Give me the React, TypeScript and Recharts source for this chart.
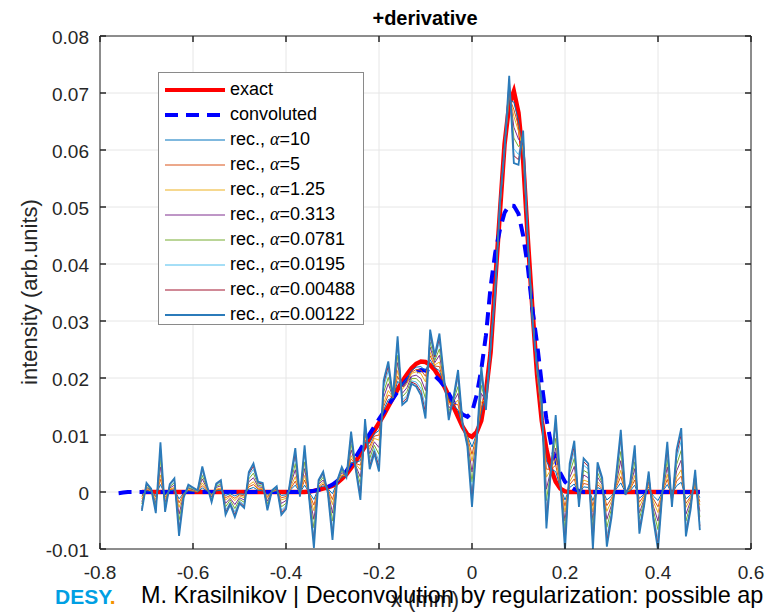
import React from 'react';
import { LineChart, Line, XAxis, YAxis, CartesianGrid, Legend, ReferenceLine } from 'recharts';

const FONT = '"Liberation Sans", Arial, Helvetica, sans-serif';
const AXIS_COLOR = '#262626';
const PLOT = { left: 100, top: 36, right: 751, bottom: 549 };

const xTicks = [-0.8, -0.6, -0.4, -0.2, 0, 0.2, 0.4, 0.6];
const yTicks = [-0.01, 0, 0.01, 0.02, 0.03, 0.04, 0.05, 0.06, 0.07, 0.08];

const xRec = [
  -0.71, -0.7, -0.69, -0.68, -0.67, -0.66, -0.65, -0.64, -0.63, -0.62,
  -0.61, -0.6, -0.59, -0.58, -0.57, -0.56, -0.55, -0.54, -0.53, -0.52,
  -0.51, -0.5, -0.49, -0.48, -0.47, -0.46, -0.45, -0.44, -0.43, -0.42,
  -0.41, -0.4, -0.39, -0.38, -0.37, -0.36, -0.35, -0.34, -0.33, -0.32,
  -0.31, -0.3, -0.29, -0.28, -0.27, -0.26, -0.25, -0.24, -0.23, -0.22,
  -0.21, -0.2, -0.19, -0.18, -0.17, -0.16, -0.15, -0.14, -0.13, -0.12,
  -0.11, -0.1, -0.09, -0.08, -0.07, -0.06, -0.05, -0.04, -0.03, -0.02,
  -0.01, 0, 0.01, 0.02, 0.03, 0.04, 0.05, 0.06, 0.07, 0.08,
  0.09, 0.1, 0.11, 0.12, 0.13, 0.14, 0.15, 0.16, 0.17, 0.18,
  0.19, 0.2, 0.21, 0.22, 0.23, 0.24, 0.25, 0.26, 0.27, 0.28,
  0.29, 0.3, 0.31, 0.32, 0.33, 0.34, 0.35, 0.36, 0.37, 0.38,
  0.39, 0.4, 0.41, 0.42, 0.43, 0.44, 0.45, 0.46, 0.47, 0.48,
  0.49,
];
const xConv = [-0.76, -0.75, -0.74, -0.73, -0.72, ...xRec];

const exact = [
  0, 0, 0, 0, 0, 0, 0, 0, 0, 0,
  0, 0, 0, 0, 0, 0, 0, 0, 0, 0,
  0, 0, 0, 0, 0, 0, 0, 0, 0, 0,
  0, 0, 0, 0, 0, 0, 0.0001, 0.0002, 0.0004, 0.0006,
  0.0008, 0.0011, 0.0016, 0.0023, 0.0031, 0.0042, 0.0054, 0.0067, 0.008, 0.0094,
  0.0108, 0.0121, 0.0135, 0.015, 0.0165, 0.018, 0.0194, 0.0206, 0.0217, 0.0225,
  0.0229, 0.0228, 0.0223, 0.0214, 0.0201, 0.0186, 0.0169, 0.015, 0.0132, 0.0114,
  0.0101, 0.0097, 0.0105, 0.0125, 0.0175, 0.0245, 0.037, 0.049, 0.061, 0.068,
  0.0703, 0.0665, 0.0582, 0.0445, 0.032, 0.0205, 0.0125, 0.0075, 0.004, 0.0018,
  0.0006, 0.0001, 0, 0, 0, 0, 0, 0, 0, 0,
  0, 0, 0, 0, 0, 0, 0, 0, 0, 0,
  0, 0, 0, 0, 0, 0, 0, 0, 0, 0,
  0,
];

const convoluted = [
  -0.0002, -0.0001, 0, 0, 0, 0, 0, 0, 0, 0,
  0, 0, 0, 0, 0, 0, 0, 0, 0, 0,
  0, 0, 0, 0, 0, 0, 0, 0, 0, 0,
  0, 0, 0, 0, 0, 0, 0, 0, 0, 0,
  0, 0.0001, 0.0002, 0.0004, 0.0006, 0.0009, 0.0013, 0.0019, 0.0027, 0.0037,
  0.0049, 0.0062, 0.0075, 0.0089, 0.0102, 0.0115, 0.0128, 0.014, 0.0152, 0.0164,
  0.0176, 0.0187, 0.0197, 0.0205, 0.0211, 0.0214, 0.0213, 0.021, 0.0204, 0.0196,
  0.0186, 0.0173, 0.0158, 0.0145, 0.0136, 0.0132, 0.014, 0.017, 0.0215, 0.0275,
  0.036, 0.042, 0.046, 0.049, 0.0503, 0.0502, 0.0488, 0.045, 0.0395, 0.032,
  0.026, 0.019, 0.0128, 0.0085, 0.0055, 0.0033, 0.0018, 0.001, 0.0005, 0.0002,
  0, 0, 0, 0, 0, 0, 0, 0, 0, 0,
  0, 0, 0, 0, 0, 0, 0, 0, 0, 0,
  0, 0, 0, 0, 0, 0,
];

const recA10 = [
  -0.0005, 0.0002, 0.0001, -0.0006, 0.0013, -0.0005, 0.0002, 0.0004, -0.0012, -0.0002,
  0.0002, 0.0001, 0, 0.0007, 0.0002, -0.0003, 0.0002, 0.0003, -0.0006, -0.0003,
  -0.0007, -0.0003, -0.0004, 0.0005, 0.0008, 0.0003, 0.0002, -0.0005, 0, 0.0002,
  -0.0006, -0.0005, 0.0004, 0.0012, -0.0001, 0.0012, -0.0001, -0.0013, 0.0007, 0.0011,
  0.0006, -0.0003, 0.0017, 0.0026, 0.003, 0.0052, 0.0052, 0.0055, 0.0087, 0.0086,
  0.0102, 0.0108, 0.0144, 0.0162, 0.0165, 0.0194, 0.0188, 0.0199, 0.0213, 0.0219,
  0.022, 0.0213, 0.0232, 0.0218, 0.0213, 0.0188, 0.0163, 0.0152, 0.0144, 0.0115,
  0.0098, 0.0079, 0.0102, 0.0139, 0.017, 0.0247, 0.0367, 0.0493, 0.0608, 0.0688,
  0.0684, 0.0651, 0.059, 0.0444, 0.0317, 0.0207, 0.013, 0.0054, 0.004, 0.0036,
  0.0008, -0.0014, 0.0008, 0.0014, -0.0004, 0.0009, 0.0008, -0.0015, 0.0008, 0.0004,
  -0.0014, -0.0007, 0.0005, 0.0016, -0.0001, 0.0002, 0.0012, -0.0011, -0.0004, 0.0005,
  -0.0007, -0.0015, 0.0001, 0.0013, -0.0004, 0.0011, 0.0017, -0.0012, -0.0005, 0.0006,
  -0.001,
];

const recA5 = [
  -0.0008, 0.0004, 0.0002, -0.0009, 0.0022, -0.0009, 0.0004, 0.0006, -0.0019, -0.0003,
  0.0003, 0.0002, 0.0001, 0.0011, 0.0003, -0.0005, 0.0004, 0.0005, -0.001, -0.0006,
  -0.0011, -0.0005, -0.0007, 0.0009, 0.0013, 0.0005, 0.0004, -0.0008, 0.0001, 0.0003,
  -0.001, -0.0008, 0.0006, 0.0019, -0.0002, 0.0021, -0.0003, -0.0023, 0.0008, 0.0014,
  0.0005, -0.0013, 0.0017, 0.0028, 0.003, 0.0058, 0.005, 0.0047, 0.0092, 0.008,
  0.0098, 0.01, 0.015, 0.017, 0.0166, 0.0203, 0.0184, 0.0194, 0.021, 0.0215,
  0.0214, 0.0203, 0.0239, 0.0221, 0.022, 0.019, 0.0158, 0.0154, 0.0153, 0.0116,
  0.0096, 0.0066, 0.01, 0.0149, 0.0167, 0.0248, 0.0365, 0.0495, 0.0607, 0.0693,
  0.0671, 0.0642, 0.0595, 0.0444, 0.0315, 0.0209, 0.0134, 0.004, 0.004, 0.0047,
  0.001, -0.0025, 0.0013, 0.0023, -0.0007, 0.0015, 0.0013, -0.0025, 0.0013, 0.0006,
  -0.0024, -0.0011, 0.0008, 0.0027, -0.0001, 0.0004, 0.0021, -0.0018, -0.0006, 0.0009,
  -0.0012, -0.0026, 0.0001, 0.0022, -0.0007, 0.0019, 0.0028, -0.002, -0.0008, 0.001,
  -0.0017,
];

const recA125 = [
  -0.0012, 0.0006, 0.0002, -0.0013, 0.003, -0.0012, 0.0005, 0.0008, -0.0027, -0.0004,
  0.0005, 0.0003, 0.0001, 0.0016, 0.0004, -0.0006, 0.0005, 0.0007, -0.0014, -0.0008,
  -0.0015, -0.0007, -0.001, 0.0012, 0.0018, 0.0006, 0.0006, -0.0011, 0.0001, 0.0004,
  -0.0014, -0.0011, 0.0009, 0.0027, -0.0003, 0.0029, -0.0004, -0.0033, 0.001, 0.0017,
  0.0004, -0.0022, 0.0017, 0.003, 0.0029, 0.0064, 0.0049, 0.0039, 0.0097, 0.0075,
  0.0094, 0.0091, 0.0156, 0.0178, 0.0166, 0.0213, 0.018, 0.019, 0.0208, 0.0211,
  0.0208, 0.0193, 0.0245, 0.0223, 0.0228, 0.0191, 0.0154, 0.0155, 0.0161, 0.0116,
  0.0094, 0.0054, 0.0098, 0.0158, 0.0164, 0.0249, 0.0363, 0.0497, 0.0606, 0.0698,
  0.0659, 0.0633, 0.06, 0.0443, 0.0313, 0.021, 0.0137, 0.0026, 0.004, 0.0059,
  0.0011, -0.0035, 0.0018, 0.0032, -0.0009, 0.0021, 0.0018, -0.0035, 0.0018, 0.0009,
  -0.0034, -0.0016, 0.0011, 0.0038, -0.0002, 0.0005, 0.0029, -0.0026, -0.0009, 0.0013,
  -0.0017, -0.0036, 0.0002, 0.0031, -0.0009, 0.0026, 0.0039, -0.0027, -0.0011, 0.0014,
  -0.0023,
];

const recA0313 = [
  -0.0017, 0.0008, 0.0003, -0.0019, 0.0044, -0.0018, 0.0007, 0.0012, -0.0039, -0.0005,
  0.0007, 0.0004, 0.0002, 0.0023, 0.0006, -0.0009, 0.0008, 0.0011, -0.002, -0.0011,
  -0.0022, -0.001, -0.0014, 0.0018, 0.0025, 0.0009, 0.0008, -0.0016, 0.0002, 0.0005,
  -0.002, -0.0015, 0.0013, 0.0039, -0.0004, 0.0041, -0.0006, -0.0048, 0.0013, 0.0021,
  0.0003, -0.0037, 0.0018, 0.0034, 0.0028, 0.0074, 0.0046, 0.0026, 0.0104, 0.0067,
  0.0088, 0.0078, 0.0166, 0.019, 0.0166, 0.0227, 0.0173, 0.0183, 0.0203, 0.0205,
  0.0199, 0.0178, 0.0254, 0.0227, 0.024, 0.0193, 0.0147, 0.0158, 0.0173, 0.0117,
  0.009, 0.0035, 0.0095, 0.0173, 0.0159, 0.025, 0.036, 0.05, 0.0605, 0.0705,
  0.064, 0.0619, 0.0608, 0.0442, 0.031, 0.0213, 0.0143, 0.0005, 0.004, 0.0077,
  0.0013, -0.0051, 0.0025, 0.0045, -0.0013, 0.003, 0.0025, -0.005, 0.0026, 0.0013,
  -0.0048, -0.0023, 0.0015, 0.0055, -0.0003, 0.0008, 0.0041, -0.0037, -0.0013, 0.0018,
  -0.0025, -0.0051, 0.0003, 0.0044, -0.0013, 0.0037, 0.0056, -0.0039, -0.0016, 0.002,
  -0.0034,
];

const recA0781 = [
  -0.0021, 0.001, 0.0004, -0.0024, 0.0057, -0.0023, 0.0009, 0.0016, -0.005, -0.0007,
  0.0008, 0.0005, 0.0002, 0.0029, 0.0008, -0.0012, 0.001, 0.0014, -0.0026, -0.0014,
  -0.0029, -0.0013, -0.0018, 0.0023, 0.0033, 0.0012, 0.001, -0.0021, 0.0002, 0.0007,
  -0.0026, -0.002, 0.0016, 0.005, -0.0005, 0.0053, -0.0008, -0.0063, 0.0015, 0.0026,
  0.0001, -0.0051, 0.0019, 0.0037, 0.0028, 0.0084, 0.0044, 0.0014, 0.0111, 0.0059,
  0.0082, 0.0066, 0.0175, 0.0201, 0.0166, 0.024, 0.0167, 0.0176, 0.0199, 0.0199,
  0.0191, 0.0164, 0.0263, 0.0231, 0.0251, 0.0195, 0.0141, 0.016, 0.0185, 0.0118,
  0.0087, 0.0017, 0.0092, 0.0187, 0.0155, 0.0252, 0.0357, 0.0503, 0.0603, 0.0713,
  0.0621, 0.0606, 0.0616, 0.0442, 0.0307, 0.0215, 0.0148, -0.0015, 0.004, 0.0094,
  0.0015, -0.0066, 0.0033, 0.0059, -0.0017, 0.0038, 0.0033, -0.0065, 0.0034, 0.0016,
  -0.0062, -0.0029, 0.002, 0.0071, -0.0003, 0.001, 0.0053, -0.0047, -0.0016, 0.0023,
  -0.0032, -0.0066, 0.0003, 0.0057, -0.0017, 0.0048, 0.0073, -0.0051, -0.0021, 0.0025,
  -0.0044,
];

const recA0195 = [
  -0.0026, 0.0013, 0.0005, -0.003, 0.007, -0.0028, 0.0011, 0.0019, -0.0062, -0.0008,
  0.001, 0.0006, 0.0002, 0.0036, 0.001, -0.0014, 0.0012, 0.0017, -0.0032, -0.0018,
  -0.0035, -0.0016, -0.0022, 0.0028, 0.004, 0.0014, 0.0013, -0.0026, 0.0002, 0.0008,
  -0.0032, -0.0024, 0.002, 0.0062, -0.0006, 0.0066, -0.001, -0.0078, 0.0018, 0.003,
  0, -0.0065, 0.0019, 0.004, 0.0027, 0.0093, 0.0042, 0.0002, 0.0118, 0.0051,
  0.0076, 0.0053, 0.0184, 0.0213, 0.0167, 0.0254, 0.0161, 0.0169, 0.0195, 0.0193,
  0.0182, 0.0149, 0.0273, 0.0235, 0.0263, 0.0197, 0.0135, 0.0162, 0.0198, 0.0119,
  0.0084, -0.0001, 0.0089, 0.0201, 0.015, 0.0253, 0.0354, 0.0506, 0.0602, 0.072,
  0.0602, 0.0592, 0.0624, 0.0441, 0.0304, 0.0217, 0.0153, -0.0036, 0.004, 0.0112,
  0.0017, -0.0081, 0.004, 0.0072, -0.0021, 0.0047, 0.004, -0.008, 0.0042, 0.002,
  -0.0077, -0.0036, 0.0024, 0.0087, -0.0004, 0.0012, 0.0066, -0.0058, -0.002, 0.0029,
  -0.0039, -0.0082, 0.0004, 0.007, -0.0021, 0.0059, 0.009, -0.0062, -0.0026, 0.0031,
  -0.0054,
];

const recA00488 = [
  -0.003, 0.0014, 0.0005, -0.0033, 0.0078, -0.0032, 0.0013, 0.0022, -0.0069, -0.0009,
  0.0012, 0.0007, 0.0003, 0.0041, 0.0011, -0.0016, 0.0014, 0.0019, -0.0036, -0.002,
  -0.004, -0.0018, -0.0025, 0.0032, 0.0045, 0.0016, 0.0014, -0.0029, 0.0003, 0.0009,
  -0.0036, -0.0027, 0.0023, 0.0069, -0.0007, 0.0074, -0.0012, -0.0088, 0.0019, 0.0033,
  -0.0001, -0.0075, 0.002, 0.0042, 0.0026, 0.01, 0.004, -0.0006, 0.0123, 0.0045,
  0.0072, 0.0044, 0.019, 0.0221, 0.0167, 0.0264, 0.0157, 0.0165, 0.0193, 0.0189,
  0.0176, 0.0139, 0.0279, 0.0237, 0.027, 0.0199, 0.013, 0.0164, 0.0206, 0.0119,
  0.0082, -0.0014, 0.0087, 0.0211, 0.0147, 0.0254, 0.0352, 0.0508, 0.0601, 0.0725,
  0.059, 0.0583, 0.0629, 0.044, 0.0302, 0.0219, 0.0157, -0.005, 0.004, 0.0123,
  0.0019, -0.0092, 0.0045, 0.0081, -0.0023, 0.0053, 0.0045, -0.009, 0.0047, 0.0023,
  -0.0086, -0.0041, 0.0027, 0.0098, -0.0005, 0.0014, 0.0074, -0.0066, -0.0023, 0.0032,
  -0.0044, -0.0092, 0.0005, 0.0079, -0.0023, 0.0067, 0.0101, -0.007, -0.0029, 0.0035,
  -0.006,
];

const recA00122 = [
  -0.0033, 0.0016, 0.0006, -0.0037, 0.0087, -0.0035, 0.0014, 0.0024, -0.0077, -0.001,
  0.0013, 0.0008, 0.0003, 0.0045, 0.0012, -0.0018, 0.0015, 0.0021, -0.004, -0.0022,
  -0.0044, -0.002, -0.0028, 0.0035, 0.005, 0.0018, 0.0016, -0.0032, 0.0003, 0.001,
  -0.004, -0.003, 0.0025, 0.0077, -0.0008, 0.0082, -0.0013, -0.0098, 0.0021, 0.0036,
  -0.0002, -0.0084, 0.002, 0.0044, 0.0026, 0.0106, 0.0039, -0.0014, 0.0128, 0.004,
  0.0068, 0.0036, 0.0196, 0.0229, 0.0167, 0.0273, 0.0153, 0.016, 0.019, 0.0185,
  0.017, 0.0129, 0.0285, 0.024, 0.0278, 0.02, 0.0126, 0.0165, 0.0214, 0.012,
  0.008, -0.0026, 0.0085, 0.022, 0.0144, 0.0255, 0.035, 0.051, 0.06, 0.073,
  0.0577, 0.0574, 0.0634, 0.044, 0.03, 0.022, 0.016, -0.0064, 0.004, 0.0135,
  0.002, -0.0102, 0.005, 0.009, -0.0026, 0.0059, 0.005, -0.01, 0.0052, 0.0025,
  -0.0096, -0.0045, 0.003, 0.0109, -0.0005, 0.0015, 0.0082, -0.0073, -0.0025, 0.0036,
  -0.0049, -0.0102, 0.0005, 0.0088, -0.0026, 0.0074, 0.0112, -0.0078, -0.0032, 0.0039,
  -0.0067,
];

const alphas = ['10', '5', '1.25', '0.313', '0.0781', '0.0195', '0.00488', '0.00122'];
const recValues = [recA10, recA5, recA125, recA0313, recA0781, recA0195, recA00488, recA00122];
const recColors = ['#0072BD', '#D95319', '#EDB120', '#7E2F8E', '#77AC30', '#4DBEEE', '#A2142F', '#2b7bba'];
const recWidths = [1, 1, 1, 1, 1, 1, 1, 1.8];

const recData = xRec.map((x, i) => {
  const row: Record<string, number> = { x, exact: exact[i] };
  recValues.forEach((vals, k) => {
    row[`r${k}`] = vals[i];
  });
  return row;
});
const convData = xConv.map((x, i) => ({ x, convoluted: convoluted[i] }));

const fmt = (v: number) => (Math.abs(v) < 1e-9 ? '0' : String(Number(v.toFixed(2))));

const XTick = (props: any) => {
  const { x, payload } = props;
  return (
    <g>
      <line x1={x} x2={x} y1={PLOT.bottom} y2={PLOT.bottom - 6} stroke={AXIS_COLOR} strokeWidth={1.5} />
      <line x1={x} x2={x} y1={PLOT.top} y2={PLOT.top + 6} stroke={AXIS_COLOR} strokeWidth={1.5} />
      <text x={x} y={PLOT.bottom + 30} textAnchor="middle" fill={AXIS_COLOR} fontSize={19} fontFamily={FONT}>
        {fmt(payload.value)}
      </text>
    </g>
  );
};

const YTick = (props: any) => {
  const { y, payload } = props;
  return (
    <g>
      <line x1={PLOT.left} x2={PLOT.left + 6} y1={y} y2={y} stroke={AXIS_COLOR} strokeWidth={1.5} />
      <line x1={PLOT.right} x2={PLOT.right - 6} y1={y} y2={y} stroke={AXIS_COLOR} strokeWidth={1.5} />
      <text x={PLOT.left - 11} y={y + 8} textAnchor="end" fill={AXIS_COLOR} fontSize={19} fontFamily={FONT}>
        {fmt(payload.value)}
      </text>
    </g>
  );
};

const legendRows = [
  { label: 'exact', color: '#FF0000', width: 4, dash: undefined as string | undefined, alpha: false },
  { label: 'convoluted', color: '#0000FF', width: 4, dash: '13 8', alpha: false },
  ...alphas.map((a, k) => ({ label: a, color: recColors[k], width: recWidths[k], dash: undefined, alpha: true })),
];

const LegendBox = () => (
  <div
    style={{
      position: 'relative',
      width: 206,
      height: 253,
      boxSizing: 'border-box',
      border: '1px solid #8a8a8a',
      background: '#fff',
      fontFamily: FONT,
      fontSize: 18,
      color: '#000',
    }}
  >
    {legendRows.map((row, i) => (
      <div
        key={row.label}
        style={{ position: 'absolute', left: 6, top: 4 + i * 25, height: 25, display: 'flex', alignItems: 'center' }}
      >
        <svg width={60} height={10} style={{ display: 'block' }}>
          <line x1={0} x2={60} y1={5} y2={5} stroke={row.color} strokeWidth={row.width} strokeDasharray={row.dash} />
        </svg>
        <span style={{ marginLeft: 5, whiteSpace: 'nowrap', lineHeight: '25px' }}>
          {row.alpha ? (
            <>
              rec.,{' '}
              <span style={{ fontFamily: '"Liberation Serif", "DejaVu Serif", serif', fontStyle: 'italic' }}>α</span>={row.label}
            </>
          ) : (
            row.label
          )}
        </span>
      </div>
    ))}
  </div>
);

export default function App() {
  return (
    <div style={{ position: 'absolute', left: 0, top: 0, width: 768, height: 616, background: '#fff', overflow: 'hidden' }}>
      <LineChart width={768} height={616} margin={{ top: PLOT.top, right: 768 - PLOT.right, bottom: 0, left: 0 }}>
        <CartesianGrid stroke="#e6e6e6" strokeWidth={1} />
        <XAxis
          type="number"
          dataKey="x"
          domain={[-0.8, 0.6]}
          ticks={xTicks}
          interval={0}
          allowDataOverflow
          height={616 - PLOT.bottom}
          tick={<XTick />}
          tickLine={false}
          stroke={AXIS_COLOR}
        />
        <YAxis
          type="number"
          domain={[-0.01, 0.08]}
          ticks={yTicks}
          interval={0}
          allowDataOverflow
          width={PLOT.left}
          tick={<YTick />}
          tickLine={false}
          stroke={AXIS_COLOR}
        />
        <ReferenceLine x={0.6} stroke={AXIS_COLOR} />
        <ReferenceLine y={0.08} stroke={AXIS_COLOR} />
        <Legend
          layout="horizontal"
          verticalAlign="middle"
          align="center"
          wrapperStyle={{ left: 158, top: 72, width: 206, height: 253 }}
          content={() => <LegendBox />}
        />
        <Line data={recData} dataKey="exact" stroke="#FF0000" strokeWidth={4.5} dot={false} isAnimationActive={false} />
        <Line
          data={convData}
          dataKey="convoluted"
          stroke="#0000FF"
          strokeWidth={4}
          strokeDasharray="13 8"
          dot={false}
          isAnimationActive={false}
        />
        {recValues.map((_, k) => (
          <Line
            key={k}
            data={recData}
            dataKey={`r${k}`}
            stroke={recColors[k]}
            strokeWidth={recWidths[k]}
            dot={false}
            isAnimationActive={false}
          />
        ))}
      </LineChart>
      <svg width={768} height={616} style={{ position: 'absolute', left: 0, top: 0, pointerEvents: 'none' }}>
        <text x={425} y={25} textAnchor="middle" fontSize={20} fontWeight="bold" fontFamily={FONT} fill="#000">
          +derivative
        </text>
        <text
          transform="translate(37,292) rotate(-90)"
          textAnchor="middle"
          fontSize={22}
          fontFamily={FONT}
          fill={AXIS_COLOR}
        >
          intensity (arb.units)
        </text>
        <text x={425} y={607} textAnchor="middle" fontSize={22} fontFamily={FONT} fill={AXIS_COLOR}>
          x (mm)
        </text>
        <text x={55} y={604} fontSize={21} fontWeight="bold" fontFamily={FONT} fill="#009FE3">
          DESY<tspan fill="#F39200">.</tspan>
        </text>
        <text x={141} y={603} fontSize={23.4} fontFamily={FONT} fill="#000">
          M. Krasilnikov | Deconvolution by regularization: possible ap
        </text>
      </svg>
    </div>
  );
}
